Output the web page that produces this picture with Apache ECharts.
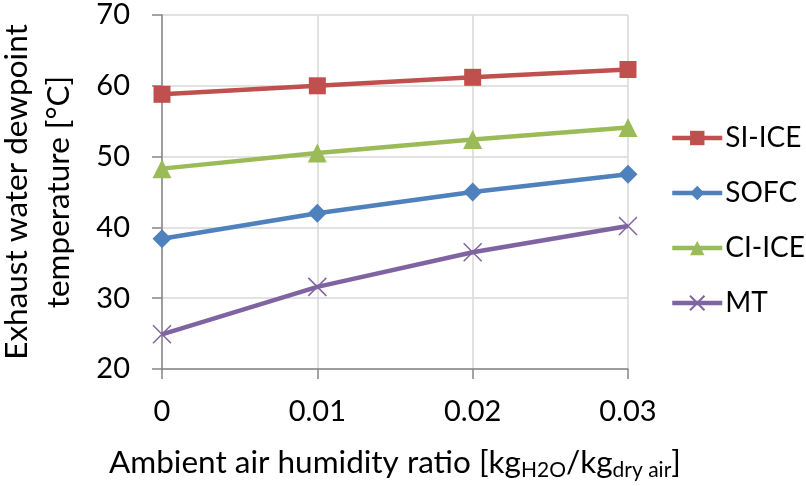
<!DOCTYPE html>
<html><head><meta charset="utf-8">
<script src="https://cdn.jsdelivr.net/npm/echarts@6/dist/echarts.min.js"></script>
<style>html,body{margin:0;padding:0;background:#fff}#c{width:806px;height:486px}</style>
</head><body><div id="c"></div>
<script>
const xValues = [0, 0.01, 0.02, 0.03];
const siIce = [58.8, 60.0, 61.2, 62.3];
const sofc = [38.4, 42.0, 45.0, 47.5];
const ciIce = [48.3, 50.5, 52.4, 54.1];
const mt = [24.9, 31.6, 36.5, 40.2];
const seriesNames = ['SI-ICE', 'SOFC', 'CI-ICE', 'MT'];

const FONT = 'Lato, "Open Sans", sans-serif';
const FS = 29;
const NFS = 31.5;
const pairs = arr => xValues.map((x, i) => [x, arr[i]]);
const crossPath = 'path://M0,0 L10,10 M10,0 L0,10';

const chart = echarts.init(document.getElementById('c'));
chart.setOption({
  animation: false,
  textStyle: { fontFamily: FONT },
  grid: { left: 162, right: 178, top: 15, bottom: 117, containLabel: false, outerBoundsMode: 'none' },
  legend: {
    orient: 'vertical', left: 670, top: 124, padding: 0,
    itemGap: 27, itemWidth: 50, itemHeight: 18,
    lineStyle: { width: 4.5 },
    textStyle: { fontSize: 28, color: '#000', fontFamily: FONT, padding: [0, 0, 0, -2] },
    data: seriesNames
  },
  xAxis: {
    type: 'value', min: 0, max: 0.03, interval: 0.01,
    axisLine: { lineStyle: { color: '#868686', width: 1.5 } },
    axisTick: { show: true, length: 10, lineStyle: { color: '#868686', width: 1.5 } },
    splitLine: { show: true, lineStyle: { color: '#d9d9d9', width: 1.5 } },
    axisLabel: { fontSize: FS, color: '#000', margin: 28, fontFamily: FONT, formatter: v => String(v) },
    name: 'Ambient air humidity ratio [kg{s|H2O}/kg{s|dry air}]',
    nameLocation: 'middle', nameGap: 76,
    nameTextStyle: {
      fontSize: NFS, color: '#000', fontFamily: FONT,
      rich: { s: { fontSize: 21, color: '#000', fontFamily: FONT, verticalAlign: 'bottom', padding: [15, 0, 0, 0] } }
    }
  },
  yAxis: {
    type: 'value', min: 20, max: 70, interval: 10,
    axisLine: { show: true, lineStyle: { color: '#868686', width: 1.5 } },
    axisTick: { show: true, length: 10, lineStyle: { color: '#868686', width: 1.5 } },
    splitLine: { show: true, lineStyle: { color: '#d9d9d9', width: 1.5 } },
    axisLabel: { fontSize: FS, color: '#000', margin: 32, fontFamily: FONT },
    name: 'Exhaust water dewpoint\ntemperature [°C]',
    nameLocation: 'middle', nameGap: 82,
    nameTextStyle: { fontSize: NFS, color: '#000', fontFamily: FONT, lineHeight: 42 }
  },
  series: [
    { name: 'SI-ICE', type: 'line', data: pairs(siIce), symbol: 'rect', symbolSize: 17,
      color: '#C0504D', lineStyle: { width: 4.5, color: '#C0504D' } },
    { name: 'SOFC', type: 'line', data: pairs(sofc), symbol: 'diamond', symbolSize: 19,
      color: '#4F81BD', lineStyle: { width: 4.5, color: '#4F81BD' } },
    { name: 'CI-ICE', type: 'line', data: pairs(ciIce), symbol: 'triangle', symbolSize: 19,
      color: '#9BBB59', lineStyle: { width: 4.5, color: '#9BBB59' } },
    { name: 'MT', type: 'line', data: pairs(mt), symbol: crossPath, symbolSize: 18,
      color: '#8064A2', lineStyle: { width: 4.5, color: '#8064A2' },
      itemStyle: { color: 'rgba(0,0,0,0)', borderColor: '#8064A2', borderWidth: 1.5 } }
  ]
});
</script></body></html>
